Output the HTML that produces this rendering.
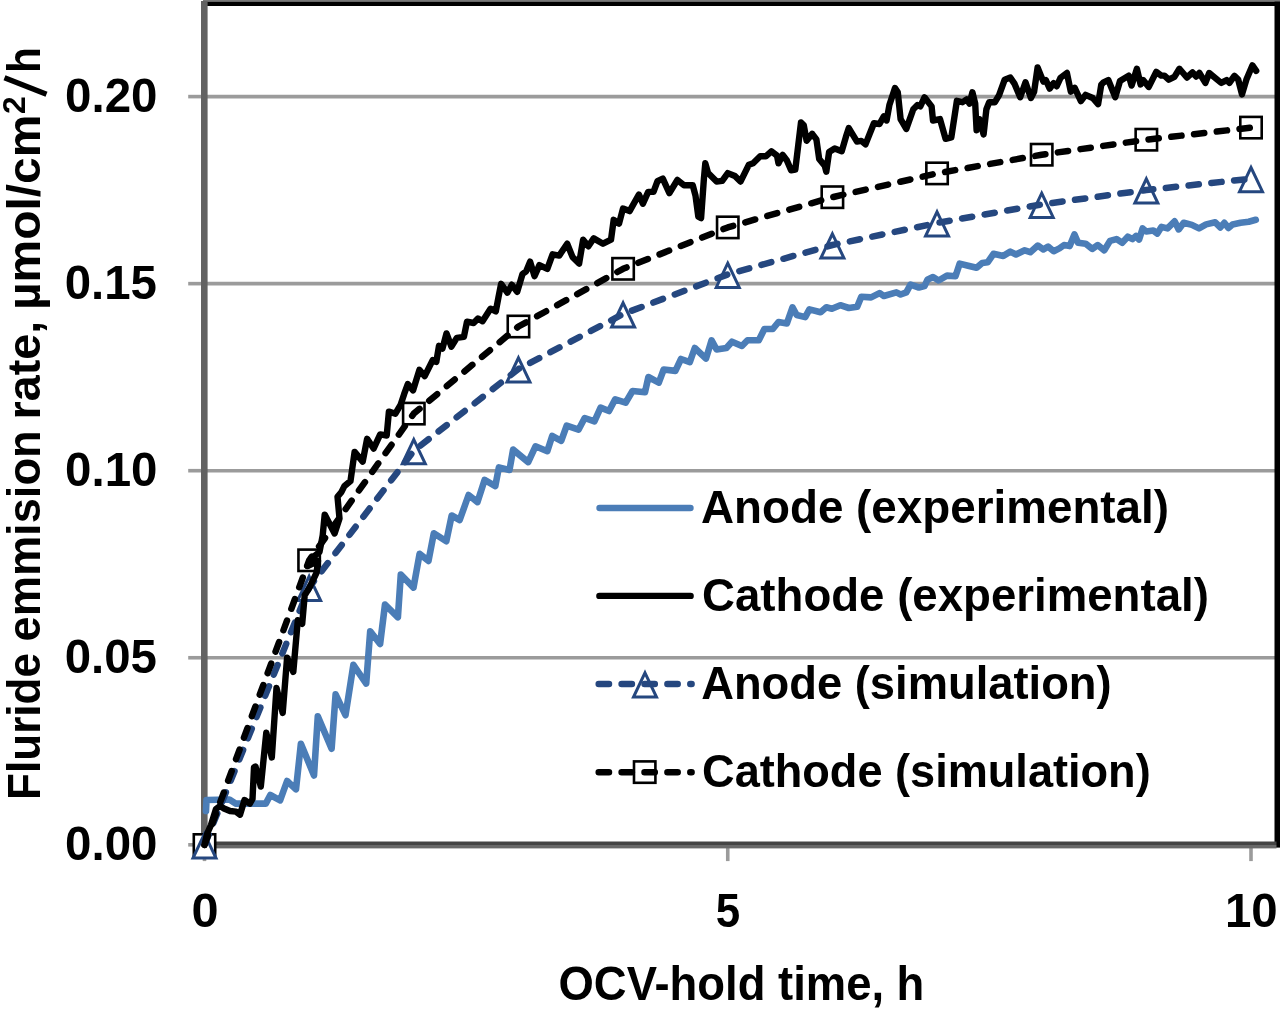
<!DOCTYPE html>
<html><head><meta charset="utf-8"><title>Fluride emission rate chart</title>
<style>
html,body{margin:0;padding:0;background:#fff;}
body{width:1280px;height:1011px;overflow:hidden;}
svg{display:block;}
#w{width:1280px;height:1011px;will-change:transform;}
text{font-family:"Liberation Sans",sans-serif;font-weight:bold;fill:#000;}
</style></head><body>
<div id="w"><svg width="1280" height="1011" viewBox="0 0 1280 1011">
<rect width="1280" height="1011" fill="#fff"/>
<line x1="204" y1="657.75" x2="1275" y2="657.75" stroke="#9b9b9b" stroke-width="3.6"/>
<line x1="204" y1="470.7" x2="1275" y2="470.7" stroke="#9b9b9b" stroke-width="3.6"/>
<line x1="204" y1="283.65" x2="1275" y2="283.65" stroke="#9b9b9b" stroke-width="3.6"/>
<line x1="204" y1="96.6" x2="1275" y2="96.6" stroke="#9b9b9b" stroke-width="3.6"/>
<rect x="203" y="0" width="1077" height="1.6" fill="#777"/>
<rect x="203" y="1.6" width="1077" height="4.4" fill="#000"/>
<rect x="1274.5" y="1.6" width="5.5" height="846" fill="#000"/>
<line x1="188.2" y1="844.8" x2="204" y2="844.8" stroke="#9b9b9b" stroke-width="3.6"/>
<line x1="188.2" y1="657.75" x2="204" y2="657.75" stroke="#9b9b9b" stroke-width="3.6"/>
<line x1="188.2" y1="470.7" x2="204" y2="470.7" stroke="#9b9b9b" stroke-width="3.6"/>
<line x1="188.2" y1="283.65" x2="204" y2="283.65" stroke="#9b9b9b" stroke-width="3.6"/>
<line x1="188.2" y1="96.6" x2="204" y2="96.6" stroke="#9b9b9b" stroke-width="3.6"/>
<line x1="204.5" y1="845" x2="204.5" y2="861.1" stroke="#9b9b9b" stroke-width="3.6"/>
<line x1="727.75" y1="845" x2="727.75" y2="861.1" stroke="#9b9b9b" stroke-width="3.6"/>
<line x1="1251" y1="845" x2="1251" y2="861.1" stroke="#9b9b9b" stroke-width="3.6"/>
<rect x="201" y="1" width="6.6" height="847" fill="#626262"/>
<rect x="201" y="841.5" width="1075.5" height="3.5" fill="#444"/>
<rect x="201" y="845" width="1075.5" height="3.4" fill="#686868"/>
<path d="M206 811 L206.5 800 L229.4 799.5 L235.6 803.6 L265.8 803.6 L270.3 795 L280.1 800.4 L287.1 781 L296 789.3 L300.9 743.7 L314 775.5 L317.8 716.2 L331.6 748.8 L335.6 694.4 L345.5 715.2 L353.4 664.8 L366.2 683.6 L370.2 631.2 L380.1 644 L385 604.5 L397.9 617.3 L400.8 574.5 L413.5 587.6 L419.6 553.8 L428.5 560.9 L433.8 533.3 L446.3 541.3 L451.7 515.5 L459.7 520 L468.6 495 L477.5 502.1 L484.6 479.9 L495.3 486.1 L498.9 467.4 L509.5 470 L513.1 449.6 L528.2 462.1 L535.5 446.3 L547.3 451.2 L552.2 436 L561.2 440.8 L566.7 425.6 L578.5 429.7 L584.7 418 L594.4 421.4 L600.6 407.6 L609 411 L615.2 399.3 L625.6 402.7 L632.5 391 L645 392.3 L648.4 377 L658.8 382.6 L663.7 369.5 L675.4 370.9 L681 359 L689.8 362.1 L694.8 348 L706 358.6 L711.6 340.3 L716.6 349.5 L726.4 348 L732 341.7 L741.9 346 L747.5 340.3 L758.8 340.3 L764.4 329 L772.8 329 L778.5 322 L786.9 323.4 L792.5 307.3 L796.7 315 L805.2 317.1 L809.4 309.4 L820.6 312.2 L826.3 307.3 L831.9 308.7 L840.3 305.2 L848.8 308 L857.2 306.8 L861.3 296.7 L871.1 297.4 L879.5 293.1 L883.8 296 L896.4 292.4 L900.6 294.5 L906.3 292.4 L910.5 284.7 L918.9 287.5 L924.5 286.1 L927.4 279.8 L933 277 L938.6 280.5 L947 275.6 L955.5 276.3 L959.7 263.6 L968.1 265.7 L976.6 267.8 L982.2 262.9 L987.8 262.2 L993.5 253.8 L1003.3 255.9 L1010.3 251.6 L1016 254.5 L1024.7 250.3 L1030.3 252.2 L1037.8 245.6 L1043.4 249.4 L1048.1 246.6 L1053.7 251.2 L1059.4 248.4 L1064 245.1 L1069.7 246.1 L1074.4 234.4 L1078.1 242.8 L1085.6 243.7 L1092.2 248.9 L1097.8 245.1 L1104.3 250.3 L1110 240.9 L1116.5 239.1 L1122.2 242.8 L1127.8 236.7 L1132.5 239.1 L1136 236 L1139.1 239.6 L1142.6 228.4 L1146.2 231.5 L1153.3 230.5 L1157.3 233.5 L1161.4 226.9 L1167.5 228.4 L1174.6 221.3 L1178.7 229.4 L1183.7 222.8 L1191.9 224.9 L1199 228.4 L1206.1 224.4 L1215.2 222.3 L1220.3 227.4 L1224.3 222.8 L1228.4 227.9 L1232.5 224.4 L1240.6 222.8 L1248.7 221.8 L1255.8 219.8" fill="none" stroke="#4B7DB7" stroke-width="6.6" stroke-linejoin="round" stroke-linecap="round"/>
<rect x="193.8" y="834.3" width="21.4" height="21.4" fill="#fff" stroke="#000" stroke-width="2.6"/>
<rect x="298.45" y="549.6" width="21.4" height="21.4" fill="#fff" stroke="#000" stroke-width="2.6"/>
<rect x="403.1" y="402.9" width="21.4" height="21.4" fill="#fff" stroke="#000" stroke-width="2.6"/>
<rect x="507.75" y="315.8" width="21.4" height="21.4" fill="#fff" stroke="#000" stroke-width="2.6"/>
<rect x="612.4" y="258.1" width="21.4" height="21.4" fill="#fff" stroke="#000" stroke-width="2.6"/>
<rect x="717.05" y="216.7" width="21.4" height="21.4" fill="#fff" stroke="#000" stroke-width="2.6"/>
<rect x="821.7" y="186.5" width="21.4" height="21.4" fill="#fff" stroke="#000" stroke-width="2.6"/>
<rect x="926.35" y="162.7" width="21.4" height="21.4" fill="#fff" stroke="#000" stroke-width="2.6"/>
<rect x="1031" y="144" width="21.4" height="21.4" fill="#fff" stroke="#000" stroke-width="2.6"/>
<rect x="1135.65" y="129" width="21.4" height="21.4" fill="#fff" stroke="#000" stroke-width="2.6"/>
<rect x="1240.3" y="116.9" width="21.4" height="21.4" fill="#fff" stroke="#000" stroke-width="2.6"/>
<path d="M204.5 833.8 L216 858 L193 858 Z" fill="#fff" stroke="#25477F" stroke-width="3" stroke-linejoin="miter"/>
<path d="M309.15 576.3 L320.65 600.5 L297.65 600.5 Z" fill="#fff" stroke="#25477F" stroke-width="3" stroke-linejoin="miter"/>
<path d="M413.8 439.6 L425.3 463.8 L402.3 463.8 Z" fill="#fff" stroke="#25477F" stroke-width="3" stroke-linejoin="miter"/>
<path d="M518.45 357.8 L529.95 382 L506.95 382 Z" fill="#fff" stroke="#25477F" stroke-width="3" stroke-linejoin="miter"/>
<path d="M623.1 302.8 L634.6 327 L611.6 327 Z" fill="#fff" stroke="#25477F" stroke-width="3" stroke-linejoin="miter"/>
<path d="M727.75 263.2 L739.25 287.4 L716.25 287.4 Z" fill="#fff" stroke="#25477F" stroke-width="3" stroke-linejoin="miter"/>
<path d="M832.4 233.8 L843.9 258 L820.9 258 Z" fill="#fff" stroke="#25477F" stroke-width="3" stroke-linejoin="miter"/>
<path d="M937.05 211.8 L948.55 236 L925.55 236 Z" fill="#fff" stroke="#25477F" stroke-width="3" stroke-linejoin="miter"/>
<path d="M1041.7 193.2 L1053.2 217.4 L1030.2 217.4 Z" fill="#fff" stroke="#25477F" stroke-width="3" stroke-linejoin="miter"/>
<path d="M1146.35 178.8 L1157.85 203 L1134.85 203 Z" fill="#fff" stroke="#25477F" stroke-width="3" stroke-linejoin="miter"/>
<path d="M1251 167.5 L1262.5 191.7 L1239.5 191.7 Z" fill="#fff" stroke="#25477F" stroke-width="3" stroke-linejoin="miter"/>
<path d="M204.5 845 L309.15 587.5 L413.8 450.8 L518.45 369 L623.1 314 L727.75 274.4 L832.4 245 L937.05 223 L1041.7 204.4 L1146.35 190 L1251 178.7" fill="none" stroke="#25477F" stroke-width="6.5" stroke-dasharray="10.3 12.6" stroke-dashoffset="-0.7" stroke-linecap="round" stroke-linejoin="round"/>
<path d="M204.5 845 L309.15 560.3 L413.8 413.6 L518.45 326.5 L623.1 268.8 L727.75 227.4 L832.4 197.2 L937.05 173.4 L1041.7 154.7 L1146.35 139.7 L1251 127.6" fill="none" stroke="#000" stroke-width="6.5" stroke-dasharray="10.3 12.6" stroke-dashoffset="0.2" stroke-linecap="round" stroke-linejoin="round"/>
<path d="M204.5 845 L207 834 L211 825 L216 809 L220 806 L224 808.5 L230 811 L236 811.6 L240 814.7 L244.5 800 L249.8 803.6 L252.5 799 L254 767.5 L255.5 766.5 L260.8 786.6 L266.3 732.6 L271.8 757.5 L276.5 688 L282.7 713 L287.1 657.6 L293.3 671.9 L297.8 620.2 L302.2 623.8 L304.7 595.3 L309.6 587.4 L316.6 572.6 L318 561 L307.5 566 L312 558 L319.5 552 L322.7 535.3 L324.7 514.6 L334.6 533.4 L339.5 518.5 L337.5 496.8 L341.5 491.9 L344.5 485.9 L350.5 481 L354.6 451.9 L362.7 461.6 L367.1 438.8 L373.6 448.6 L380.2 434.4 L386.7 435.5 L388.9 411.6 L395.4 413.7 L400.7 404.6 L404.2 393.9 L407.8 384.1 L413.1 390.3 L419.4 369.9 L424.7 376.1 L432.7 360.1 L436.3 361.9 L439 345.8 L442.5 348.5 L446.5 333.4 L451.4 346.7 L456.8 337.8 L463.9 336.9 L467 321.7 L473.6 323 L478 318.5 L482.5 321.2 L490.5 308.7 L495.8 311.4 L498.5 297.2 L501.1 283.8 L507.4 292.7 L511.8 284.7 L517.2 291.8 L522.5 274 L526.1 271.4 L530.1 261.6 L534.5 276.2 L539.4 265.1 L547.3 268.9 L552.6 254.3 L559.2 255.6 L567.2 243.7 L572.5 256.9 L579.1 263.6 L583.1 239.7 L588.4 246.3 L593.7 238.4 L603 243.7 L611 239.7 L613.7 219.8 L619 223.7 L623 208.5 L629.6 211.1 L638.9 194.5 L642.9 203.8 L648.2 191.9 L653.5 191.9 L657.5 181.2 L662.8 178.6 L669.4 193.2 L677.4 179.9 L684 185.2 L692.7 185.1 L695.5 195.6 L698.3 216.7 L701.1 218.1 L703.9 178.8 L705.3 163.3 L708.1 173.1 L716.6 181.6 L722.2 180.9 L727.8 173.1 L734.9 176 L740.5 181.6 L748.9 164.7 L753.1 163.3 L760.2 156.3 L765.8 156.3 L771.4 151.3 L777 155.6 L778.5 163.3 L782.7 154.9 L786.9 160.5 L791.1 170.3 L795.3 169.6 L798.1 146.4 L801 122.5 L803.8 125.3 L806.6 140.8 L812.2 133.8 L816.4 139.4 L819.2 159.1 L824.9 166.1 L826.3 171.7 L829.1 152 L834.7 148.5 L841.7 151.3 L846 136.6 L848.8 128.1 L857 141.6 L861.3 140.9 L865.5 144.4 L873.9 123.3 L879.5 124 L883.8 116.3 L886.6 120.5 L889.4 105 L895 88.1 L897.8 92.3 L900.6 119.1 L906.3 128.9 L913.3 109.2 L917.5 105 L920.3 106.4 L924.5 97.3 L931.6 106.4 L933 120.5 L940 119.1 L945.6 138.8 L951.3 137.4 L956.9 100.8 L962.5 102.2 L966.7 99.4 L969.6 103.6 L972.4 92.3 L975.2 103.6 L976.6 130.3 L979.4 119.1 L983.6 134.5 L986.4 109.2 L989.2 102.2 L994.9 102.2 L999.1 95.2 L1004.7 79.7 L1010.3 77.6 L1014.6 83.9 L1020.2 97.2 L1025.5 82.3 L1030.9 98 L1034.1 91.7 L1037.6 67.5 L1041.1 76.1 L1043.4 81.6 L1045.8 80 L1049.7 88.6 L1053.6 83.1 L1056.7 86.25 L1060.6 77.7 L1066.9 73 L1070.8 91.7 L1074.7 87.8 L1080.9 101.1 L1085.6 94.8 L1092.7 98 L1098.1 104.2 L1101.25 84.7 L1103.6 82.3 L1108.3 80 L1115.3 97.2 L1120 81 L1128.75 75.6 L1131.6 85.6 L1136.9 68.75 L1140.6 84.4 L1143.1 80 L1148.75 86.9 L1156.25 71.9 L1161.25 75.6 L1164.4 75.6 L1168.75 79.7 L1174.4 76.9 L1179.4 68.75 L1186.9 77.5 L1192.5 72.5 L1196.25 76.5 L1199.4 73 L1205.4 82.9 L1209.2 73 L1221.2 82.9 L1226.7 80.1 L1229.4 82.9 L1234.4 75.8 L1238.2 79.6 L1242 94.4 L1246.4 79.6 L1252.4 65.4 L1256.2 70.9" fill="none" stroke="#000" stroke-width="6.4" stroke-linejoin="round" stroke-linecap="round"/>
<line x1="599.6" y1="508.0" x2="690.4" y2="508.0" stroke="#4B7DB7" stroke-width="6.6" stroke-linecap="round"/>
<line x1="599.4" y1="595.9" x2="690.6" y2="595.9" stroke="#000" stroke-width="6.4" stroke-linecap="round"/>
<path d="M645 672.8 L656.5 697 L633.5 697 Z" fill="#fff" stroke="#25477F" stroke-width="3" stroke-linejoin="miter"/>
<line x1="598.7" y1="684" x2="691.6" y2="684" stroke="#25477F" stroke-width="6.5" stroke-dasharray="10.3 12.6" stroke-linecap="round"/>
<rect x="634" y="761.4" width="21.4" height="21.4" fill="#fff" stroke="#000" stroke-width="2.6"/>
<line x1="598.7" y1="772.3" x2="691.6" y2="772.3" stroke="#000" stroke-width="6.5" stroke-dasharray="10.3 12.6" stroke-linecap="round"/>
<text x="700.95" y="522.85" font-size="46.5" stroke-width="0" textLength="468.08" lengthAdjust="spacingAndGlyphs">Anode (experimental)</text>
<text x="702.07" y="611.15" font-size="46.5" stroke-width="0" textLength="506.83" lengthAdjust="spacingAndGlyphs">Cathode (experimental)</text>
<text x="701.16" y="699.35" font-size="46.5" stroke-width="0" textLength="410.46" lengthAdjust="spacingAndGlyphs">Anode (simulation)</text>
<text x="702.05" y="787.45" font-size="46.5" stroke-width="0" textLength="448.66" lengthAdjust="spacingAndGlyphs">Cathode (simulation)</text>
<text x="65.02" y="860" font-size="47.3" stroke-width="0" textLength="92.46" lengthAdjust="spacingAndGlyphs">0.00</text>
<text x="64.7" y="672.95" font-size="47.3" stroke-width="0" textLength="92.27" lengthAdjust="spacingAndGlyphs">0.05</text>
<text x="65.02" y="485.9" font-size="47.3" stroke-width="0" textLength="92.46" lengthAdjust="spacingAndGlyphs">0.10</text>
<text x="64.72" y="298.85" font-size="47.3" stroke-width="0" textLength="92.23" lengthAdjust="spacingAndGlyphs">0.15</text>
<text x="65.02" y="111.8" font-size="47.3" stroke-width="0" textLength="92.46" lengthAdjust="spacingAndGlyphs">0.20</text>
<text x="191.45" y="927" font-size="47.3" stroke-width="0" textLength="27.12" lengthAdjust="spacingAndGlyphs">0</text>
<text x="715.78" y="927" font-size="47.3" stroke-width="0" textLength="24.42" lengthAdjust="spacingAndGlyphs">5</text>
<text x="1224.94" y="927" font-size="47.3" stroke-width="0" textLength="52.77" lengthAdjust="spacingAndGlyphs">10</text>
<text x="558.55" y="999.85" font-size="47.6" stroke-width="0" textLength="365.82" lengthAdjust="spacingAndGlyphs">OCV-hold time, h</text>
<line x1="4.5" y1="77.7" x2="46.5" y2="94.2" stroke="#000" stroke-width="5.4"/>
<text x="0" y="0" font-size="47" stroke-width="0" textLength="147.05" lengthAdjust="spacingAndGlyphs" transform="translate(40.2 800) rotate(-90)">Fluride</text>
<text x="0" y="0" font-size="47" stroke-width="0" textLength="211.19" lengthAdjust="spacingAndGlyphs" transform="translate(40.2 641.5) rotate(-90)">emmision</text>
<text x="0" y="0" font-size="47" stroke-width="0" textLength="98.76" lengthAdjust="spacingAndGlyphs" transform="translate(40.2 419.5) rotate(-90)">rate,</text>
<text x="0" y="0" font-size="47" stroke-width="0" textLength="195.38" lengthAdjust="spacingAndGlyphs" transform="translate(40.2 310) rotate(-90)">&#181;mol/cm</text>
<text x="0" y="0" font-size="30.8" stroke-width="0" textLength="17.67" lengthAdjust="spacingAndGlyphs" transform="translate(25 114) rotate(-90)">2</text>
<text x="0" y="0" font-size="47" stroke-width="0" textLength="25.85" lengthAdjust="spacingAndGlyphs" transform="translate(40.2 73) rotate(-90)">h</text>
</svg></div>
</body></html>
